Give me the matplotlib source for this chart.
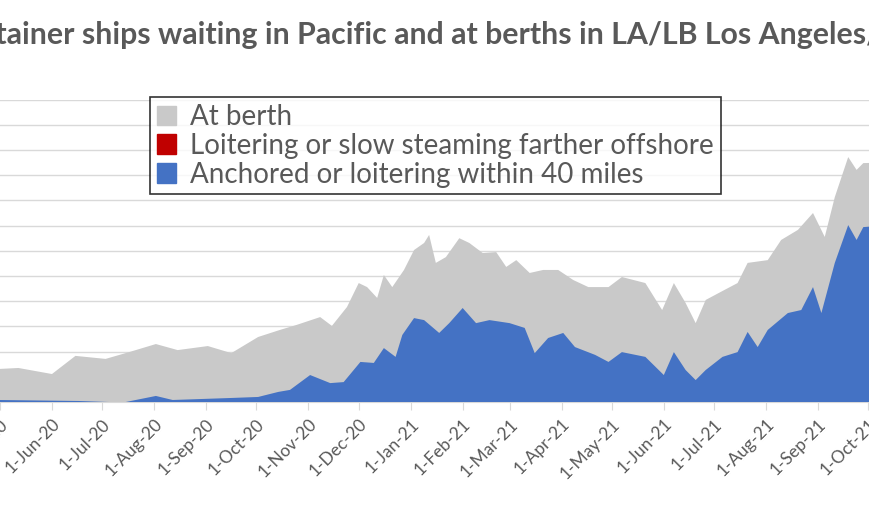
import numpy as np
import pandas as pd
import matplotlib
matplotlib.use("Agg")
import matplotlib.pyplot as plt
import matplotlib.dates as mdates
from matplotlib.patches import Patch

# days since 1-Jun-2020, number of ships
total_days = [-32, -20, 0, 14, 32, 46, 62, 75, 93, 107, 123, 136, 146, 160, 167, 176, 183,
              188, 194, 198, 203, 210, 216, 222, 225, 229, 235, 243, 249, 257, 265, 271,
              277, 285, 293, 302, 311, 320, 332, 340, 354, 364, 371, 378, 384, 390, 401,
              409, 415, 427, 435, 445, 454, 461, 467, 475, 480, 484, 495]
total_ships = [13.1, 13.5, 11.1, 18.3, 17.1, 19.8, 23.0, 20.6, 22.2, 19.4, 25.8, 28.6, 30.6,
               33.7, 30.2, 37.7, 47.2, 45.6, 41.3, 50.4, 45.6, 52.4, 60.3, 63.1, 66.3, 55.2,
               57.5, 65.0, 63.1, 59.1, 59.5, 53.6, 56.3, 51.2, 52.4, 52.4, 48.4, 45.6, 45.6,
               49.6, 47.2, 36.5, 47.2, 39.3, 31.3, 40.5, 44.4, 47.2, 55.2, 56.3, 64.3, 68.3,
               75.0, 65.5, 81.3, 97.2, 92.1, 94.8, 95.0]

anchored_days = [-32, 16, 34, 44, 62, 72, 107, 123, 135, 142, 154, 166, 174, 184, 192, 198,
                 205, 209, 216, 222, 231, 237, 245, 253, 261, 273, 282, 288, 296, 305, 312,
                 324, 332, 340, 354, 365, 371, 378, 384, 390, 400, 409, 415, 421, 427, 439,
                 447, 454, 459, 467, 475, 480, 484, 495]
anchored_ships = [0.8, 0.4, 0.0, 0.0, 2.4, 0.8, 1.6, 2.0, 4.0, 4.8, 10.7, 7.5, 7.9, 15.9,
                  15.5, 21.4, 17.9, 26.6, 33.3, 32.5, 27.4, 31.3, 37.3, 31.3, 32.5, 31.3,
                  29.4, 19.4, 25.4, 27.4, 21.8, 18.7, 15.9, 19.8, 17.9, 10.7, 19.8, 12.7,
                  8.7, 12.7, 17.9, 19.8, 27.8, 21.8, 28.6, 35.3, 36.5, 45.6, 35.3, 55.2,
                  70.2, 64.3, 69.4, 70.0]

legend_labels = ["At berth", "Loitering or slow steaming farther offshore",
                 "Anchored or loitering within 40 miles"]

start = pd.Timestamp("2020-06-01")
t_dates = start + pd.to_timedelta(total_days, unit="D")
a_dates = start + pd.to_timedelta(anchored_days, unit="D")

GREY = "#C9C9C9"
RED = "#C00000"
BLUE = "#4472C4"
TXT = "#595959"

plt.rcParams["font.family"] = "Lato"

fig = plt.figure(figsize=(8.7, 5.15), dpi=100)
ax = fig.add_axes([0, 113 / 515, 1, 302.4 / 515])

ax.fill_between(t_dates, 0, total_ships, color=GREY, lw=0, zorder=2)
ax.fill_between(a_dates, 0, anchored_ships, color=BLUE, lw=0, zorder=3)

ax.set_xlim(pd.Timestamp("2020-05-01"), pd.Timestamp("2021-10-02"))
ax.set_ylim(0, 120)
ax.set_yticks(np.arange(0, 121, 10))
ax.yaxis.grid(True, color="#D9D9D9", lw=1, zorder=0)
ax.tick_params(axis="y", left=False, labelleft=False)
for s in ["top", "right", "left"]:
    ax.spines[s].set_visible(False)
ax.spines["bottom"].set_color("#D9D9D9")

ax.xaxis.set_major_locator(mdates.MonthLocator(bymonthday=1))
ax.xaxis.set_major_formatter(mdates.DateFormatter("1-%b-%y"))
ax.tick_params(axis="x", direction="out", length=6, color="#D9D9D9",
               labelsize=12.5, labelcolor=TXT, pad=4)
for lbl in ax.get_xticklabels():
    lbl.set_rotation(45)
    lbl.set_ha("right")
    lbl.set_rotation_mode("anchor")

fig.text(-0.068, 0.932, "Container ships waiting in Pacific and at berths in LA/LB Los Angeles/Long Beach",
         fontsize=21.8, fontweight="bold", color=TXT, va="center", ha="left")

handles = [Patch(color=GREY), Patch(color=RED), Patch(color=BLUE)]
leg = fig.legend(handles, legend_labels, loc="upper left",
                 bbox_to_anchor=(150 / 870, 1 - 97 / 515), borderaxespad=0,
                 fontsize=20, frameon=True, fancybox=False, edgecolor="black",
                 handlelength=0.7, handleheight=0.7, handletextpad=0.5,
                 labelspacing=0.1, borderpad=0.25, labelcolor=TXT)
leg.get_frame().set_linewidth(1.2)

fig.savefig("out.png", dpi=100)
